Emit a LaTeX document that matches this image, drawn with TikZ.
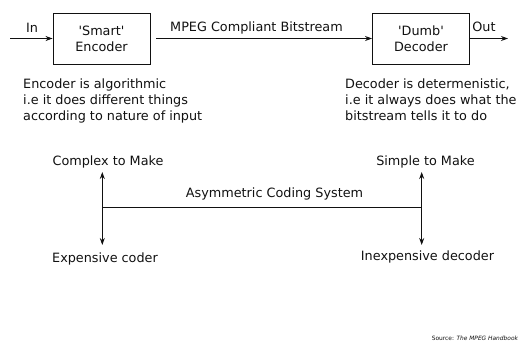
\documentclass[tikz,border=0pt]{standalone}
\usepackage{fontspec}
\setmainfont{DejaVu Sans}
\usepackage{tikz}
\usetikzlibrary{arrows.meta,positioning}
\definecolor{inkc}{HTML}{111111}
\tikzset{
  every picture/.append style={font=\fontsize{12.8}{16}\selectfont, text=inkc},
  blk/.style   = {draw=inkc, line width=0.9pt, fill=white,
                  minimum width=97pt, minimum height=51pt, align=center,
                  inner sep=0pt},
  arr/.style   = {-{Stealth[length=7pt,width=5pt]}, draw=inkc, line width=0.9pt},
  darr/.style  = {{Stealth[length=7pt,width=5pt]}-{Stealth[length=7pt,width=5pt]},
                  draw=inkc, line width=0.9pt},
  lne/.style   = {draw=inkc, line width=0.9pt},
  lab/.style   = {inner sep=1pt},
  note/.style  = {align=left, inner sep=0pt, anchor=north west},
}
\newcommand{\sq}{\textquotesingle}

\begin{document}
\begin{tikzpicture}[x=1pt,y=-1pt]
  \useasboundingbox (0,0) rectangle (519,341);
  % top row: encoder -> bitstream -> decoder
  \node[blk] (enc) at (101.5,38.5) {\sq Smart\sq\\Encoder};
  \node[blk] (dec) at (421,38.5)   {\sq Dumb\sq\\Decoder};
  \coordinate (in)  at (10,38.5);
  \coordinate (out) at (508,38.5);
  \draw[arr] (in) -- (enc);
  \draw[arr] ([xshift=6pt]enc.east) -- (dec);
  \draw[arr] (dec) -- (out);
  \node[lab] (inl)  at (32,28)    {In};
  \node[lab] (outl) at (484,27)   {Out};
  \node[lab] (bsl)  at (256.5,28) {MPEG Compliant Bitstream};
  % notes under the boxes
  \node[note] (encn) at (23,79)
    {Encoder is algorithmic\\i.e it does different things\\according to nature of input};
  \node[note] (decn) at (345,79)
    {Decoder is determenistic,\\i.e it always does what the\\bitstream tells it to do};
  % asymmetry bar
  \coordinate (lt) at (102.3,172);
  \coordinate (lb) at (102.3,245);
  \coordinate (rt) at (421.7,172);
  \coordinate (rb) at (421.7,245);
  \draw[darr] (lt) -- (lb);
  \draw[darr] (rt) -- (rb);
  \draw[lne] (lt |- 0,207.7) coordinate (lm) -- (rt |- 0,207.7) coordinate (rm);
  \node[lab] (cplx) at (108,162)   {Complex to Make};
  \node[lab] (simp) at (425.5,162) {Simple to Make};
  \node[lab] (expn) at (105,259)   {Expensive coder};
  \node[lab] (inex) at (427.5,257) {Inexpensive decoder};
  \node[lab] (acs)  at (274.5,194) {Asymmetric Coding System};
  % source line
  \node[anchor=east, inner sep=0pt, font=\fontsize{5.9}{7}\selectfont] (src)
    at (518.5,338) {Source: \textit{The MPEG Handbook}};
\end{tikzpicture}
\end{document}
